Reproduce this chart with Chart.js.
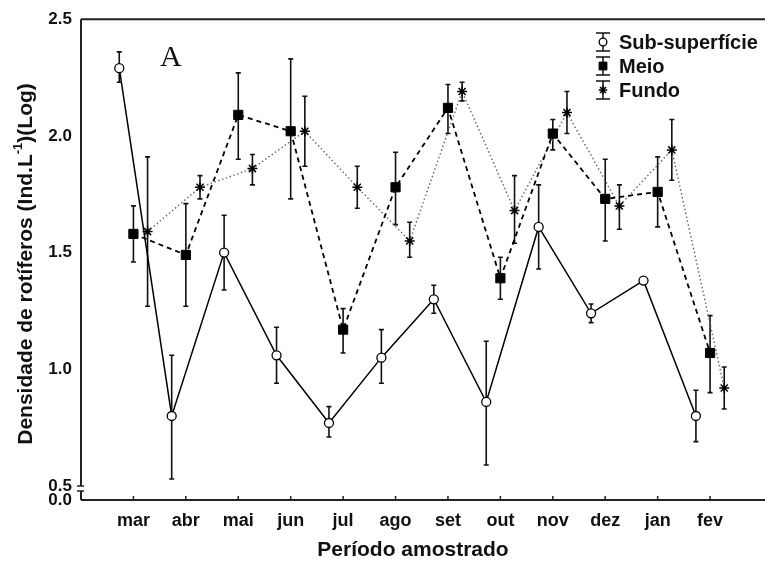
<!DOCTYPE html>
<html>
<head>
<meta charset="utf-8">
<script src="https://cdn.jsdelivr.net/npm/chart.js@4.4.0/dist/chart.umd.min.js"></script>
<style>
  html, body { margin: 0; padding: 0; background: #fff; overflow: hidden; }
  #wrap { width: 770px; height: 569px; }
</style>
</head>
<body>
<div id="wrap"><canvas id="chart" width="770" height="569"></canvas></div>
<script>
// ---- DATA ----
const months = ['mar', 'abr', 'mai', 'jun', 'jul', 'ago', 'set', 'out', 'nov', 'dez', 'jan', 'fev'];
const seriesNames = ['Sub-superfície', 'Meio', 'Fundo'];

const subMean = [2.29, 0.80, 1.50, 1.06, 0.77, 1.05, 1.30, 0.86, 1.61, 1.24, 1.38, 0.80];
const subLow  = [2.23, 0.53, 1.34, 0.94, 0.71, 0.94, 1.24, 0.59, 1.43, 1.20, 1.38, 0.69];
const subHigh = [2.36, 1.06, 1.66, 1.18, 0.84, 1.17, 1.36, 1.12, 1.79, 1.28, 1.38, 0.91];

const meioMean = [1.58, 1.49, 2.09, 2.02, 1.17, 1.78, 2.12, 1.39, 2.01, 1.73, 1.76, 1.07];
const meioLow  = [1.46, 1.27, 1.90, 1.73, 1.07, 1.62, 2.01, 1.30, 1.94, 1.55, 1.61, 0.90];
const meioHigh = [1.70, 1.71, 2.27, 2.33, 1.26, 1.93, 2.22, 1.48, 2.07, 1.90, 1.91, 1.23];

const fundoMean = [1.59, 1.78, 1.86, 2.02, 1.78, 1.55, 2.19, 1.68, 2.10, 1.70, 1.94, 0.92];
const fundoLow  = [1.27, 1.73, 1.79, 1.87, 1.69, 1.48, 2.15, 1.54, 2.01, 1.60, 1.81, 0.83];
const fundoHigh = [1.91, 1.83, 1.92, 2.17, 1.87, 1.63, 2.23, 1.83, 2.19, 1.79, 2.07, 1.01];

// broken y axis: bottom of the axis is labelled 0.0
const yAxisBottom = 0.44;
const yTickValues = [yAxisBottom, 0.5, 1.0, 1.5, 2.0, 2.5];
const yTickLabels = ['0.0', '0.5', '1.0', '1.5', '2.0', '2.5'];

// ---- CONFIG ----
const X_SHIFT = 0.27;   // side-by-side offset of the three depths
const FONT = '"Liberation Sans", Arial, Helvetica, sans-serif';
const INK = '#111';

function points(vals, shift) {
  return vals.map((v, i) => ({ x: i + shift, y: v }));
}

const errorBars = {
  id: 'errorBars',
  beforeDatasetsDraw(chart) {
    const { ctx, scales: { x, y } } = chart;
    ctx.save();
    ctx.strokeStyle = INK;
    ctx.lineWidth = 1.6;
    chart.data.datasets.forEach(ds => {
      ds.data.forEach((p, i) => {
        const px = x.getPixelForValue(p.x);
        const top = y.getPixelForValue(ds.high[i]);
        const bot = y.getPixelForValue(ds.low[i]);
        if (Math.abs(bot - top) < 1) return;
        ctx.beginPath();
        ctx.moveTo(px, top); ctx.lineTo(px, bot);
        ctx.moveTo(px - 2.5, top); ctx.lineTo(px + 2.5, top);
        ctx.moveTo(px - 2.5, bot); ctx.lineTo(px + 2.5, bot);
        ctx.stroke();
      });
    });
    ctx.restore();
  }
};

const decorations = {
  id: 'decorations',
  afterDraw(chart) {
    const { ctx, chartArea: a, scales: { x, y } } = chart;
    ctx.save();
    ctx.strokeStyle = '#222';
    ctx.lineWidth = 2;

    // frame: top line, bottom axis, left axis with a break
    const yHalf = y.getPixelForValue(0.5);
    ctx.beginPath();
    ctx.moveTo(a.left, a.top); ctx.lineTo(a.right + 10, a.top);
    ctx.moveTo(a.left, a.bottom); ctx.lineTo(a.right + 10, a.bottom);
    ctx.moveTo(a.left, a.top); ctx.lineTo(a.left, yHalf);
    ctx.moveTo(a.left, yHalf + 5); ctx.lineTo(a.left, a.bottom);
    ctx.stroke();
    ctx.lineWidth = 1.5;
    ctx.beginPath();
    ctx.moveTo(a.left - 4, yHalf); ctx.lineTo(a.left + 3, yHalf);
    ctx.moveTo(a.left - 4, yHalf + 5); ctx.lineTo(a.left + 3, yHalf + 5);
    ctx.stroke();

    // x tick marks pointing inward
    ctx.beginPath();
    months.forEach((m, i) => {
      const px = x.getPixelForValue(i);
      ctx.moveTo(px, a.bottom); ctx.lineTo(px, a.bottom - 4);
    });
    ctx.stroke();

    // axis titles
    ctx.fillStyle = INK;
    ctx.font = 'bold 21px ' + FONT;
    ctx.textAlign = 'center';
    ctx.textBaseline = 'middle';
    ctx.fillText('Período amostrado', 413, 550);

    const parts = [
      { t: 'Densidade de rotíferos (Ind.L', f: 'bold 21px ' + FONT, dy: 0 },
      { t: '-1', f: 'bold 13px ' + FONT, dy: -8 },
      { t: ')(Log)', f: 'bold 21px ' + FONT, dy: 0 }
    ];
    let total = 0;
    parts.forEach(p => { ctx.font = p.f; p.w = ctx.measureText(p.t).width; total += p.w; });
    ctx.translate(26, 264);
    ctx.rotate(-Math.PI / 2);
    ctx.textAlign = 'left';
    let cx = -total / 2;
    parts.forEach(p => {
      ctx.font = p.f;
      ctx.fillText(p.t, cx, p.dy);
      cx += p.w;
    });
    ctx.setTransform(1, 0, 0, 1, 0, 0);

    // panel letter
    ctx.font = '30px "Liberation Serif", "Times New Roman", serif';
    ctx.textAlign = 'left';
    ctx.textBaseline = 'alphabetic';
    ctx.fillText('A', 160, 66);

    // legend with error-bar symbols
    const rows = [42, 66, 90];
    chart.data.datasets.forEach((ds, k) => {
      const sx = 603, sy = rows[k];
      ctx.strokeStyle = INK;
      ctx.lineWidth = 1.5;
      ctx.beginPath();
      ctx.moveTo(sx, sy - 9); ctx.lineTo(sx, sy + 9);
      ctx.moveTo(sx - 7, sy - 9); ctx.lineTo(sx + 7, sy - 9);
      ctx.moveTo(sx - 7, sy + 9); ctx.lineTo(sx + 7, sy + 9);
      ctx.stroke();
      ctx.fillStyle = ds.pointBackgroundColor;
      ctx.strokeStyle = ds.pointBorderColor;
      ctx.lineWidth = ds.pointBorderWidth;
      Chart.helpers.drawPoint(ctx, {
        pointStyle: ds.pointStyle, radius: ds.pointRadius * 0.85,
        rotation: 0, borderWidth: ds.pointBorderWidth
      }, sx, sy);
      ctx.fillStyle = INK;
      ctx.font = 'bold 20px ' + FONT;
      ctx.textBaseline = 'middle';
      ctx.fillText(ds.label, 619, sy + 1);
    });
    ctx.restore();
  }
};

// ---- CHART ----
const ctx = document.getElementById('chart').getContext('2d');
const chart = new Chart(ctx, {
  type: 'line',
  data: {
    datasets: [
      {
        label: seriesNames[0], data: points(subMean, -X_SHIFT), low: subLow, high: subHigh,
        borderColor: '#000', borderWidth: 1.5,
        pointStyle: 'circle', pointRadius: 4.5, pointBackgroundColor: '#fff',
        pointBorderColor: '#000', pointBorderWidth: 1.3
      },
      {
        label: seriesNames[1], data: points(meioMean, 0), low: meioLow, high: meioHigh,
        borderColor: '#000', borderWidth: 1.8, borderDash: [5, 4],
        pointStyle: 'rect', pointRadius: 6.5, pointBackgroundColor: '#000',
        pointBorderColor: '#000', pointBorderWidth: 1
      },
      {
        label: seriesNames[2], data: points(fundoMean, X_SHIFT), low: fundoLow, high: fundoHigh,
        borderColor: '#666', borderWidth: 1.4, borderDash: [1.5, 2.5],
        pointStyle: 'star', pointRadius: 5, pointBackgroundColor: '#000',
        pointBorderColor: '#000', pointBorderWidth: 1.5
      }
    ]
  },
  options: {
    responsive: false,
    animation: false,
    layout: { padding: { left: 0, top: 15, right: 4, bottom: 0 } },
    plugins: { legend: { display: false }, tooltip: { enabled: false } },
    scales: {
      x: {
        type: 'linear', min: -1, max: 12,
        grid: { display: false, drawTicks: false },
        border: { display: false },
        afterBuildTicks: s => { s.ticks = months.map((m, i) => ({ value: i })); },
        afterFit: s => { s.height = 69; },
        ticks: {
          autoSkip: false, maxRotation: 0, padding: 10, color: INK,
          font: { family: FONT, size: 18, weight: 'bold' },
          callback: v => months[v]
        }
      },
      y: {
        type: 'linear', min: yAxisBottom, max: 2.5,
        grid: { display: false, drawTicks: false },
        border: { display: false },
        afterBuildTicks: s => { s.ticks = yTickValues.map(v => ({ value: v })); },
        afterFit: s => { s.width = 81; },
        ticks: {
          autoSkip: false, padding: 9, color: INK,
          font: { family: FONT, size: 17, weight: 'bold' },
          callback: (v, i) => yTickLabels[i]
        }
      }
    }
  },
  plugins: [errorBars, decorations]
});
</script>
</body>
</html>
